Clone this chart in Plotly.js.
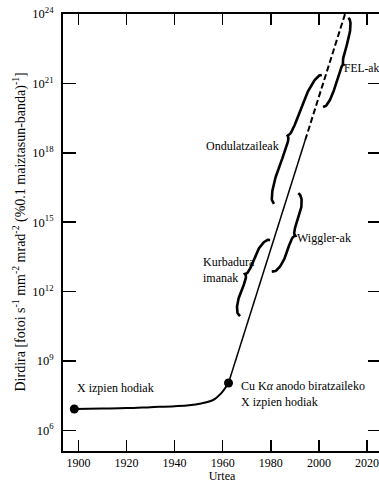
<!DOCTYPE html>
<html><head><meta charset="utf-8">
<script src="https://cdn.plot.ly/plotly-3.0.1.min.js"></script>
<style>html,body{margin:0;padding:0;overflow:hidden;background:#fff;width:379px;height:483px}</style>
</head><body><div id="chart" style="width:383px;height:483px"></div>
<script>
// ---- data ----
const xrayYears = [1898.3, 1910, 1920, 1930, 1940, 1946, 1951, 1956, 1959.5, 1962.4];
const xrayLogBrilliance = [6.92, 6.94, 6.96, 7.0, 7.04, 7.08, 7.16, 7.31, 7.62, 8.045];
const sourceYears = [1898.3, 1962.4];
const sourceLogBrilliance = [6.92, 8.045];
const trendYears = [1962.4, 1994.3];
const trendLogBrilliance = [8.045, 18.55];
const projYears = [1994.3, 2010.85];
const projLogBrilliance = [18.55, 24.0];
const braceLabels = ['FEL-ak', 'Ondulatzaileak', 'Wiggler-ak', 'Kurbadura imanak'];
const braceStartYears = [2001.7, 1981.3, 1980.4, 1967.2];
const braceStartLogs = [19.98, 15.79, 12.86, 10.94];
const braceEndYears = [2012.2, 2001.2, 1991.4, 1979.7];
const braceEndLogs = [23.83, 21.36, 16.25, 14.23];
const braceSides = [1, -1, 1, -1];
const yTickExps = [6, 9, 12, 15, 18, 21, 24];
const xTickYears = [1900, 1920, 1940, 1960, 1980, 2000, 2020];

// ---- layout / style constants ----
const W = 383, H = 483, M = {l: 63, r: 2, t: 14, b: 32};
const XR = [1893.6, 2025.8], YR = [5.105, 24];
const kx = (W - M.l - M.r) / (XR[1] - XR[0]);
const ky = (H - M.t - M.b) / (YR[1] - YR[0]);
const FONT = 'Liberation Serif';
const BODY = 8, CUSP = 3, R1 = 0.5, R2 = 0.2;
const BRACE_SCALE = [0.75, 1, 1, 1];

const pow10 = a => a.map(v => Math.pow(10, v));

function brace(i) {
  const u0 = braceStartYears[i] * kx, v0 = braceStartLogs[i] * ky;
  const u1 = braceEndYears[i] * kx, v1 = braceEndLogs[i] * ky;
  const L = Math.hypot(u1 - u0, v1 - v0);
  const du = (u1 - u0) / L, dv = (v1 - v0) / L;
  const nu = dv * braceSides[i], nv = -du * braceSides[i];
  const sc = BRACE_SCALE[i];
  const xs = [], ys = [];
  const N = 100;
  for (let k = 0; k <= N; k++) {
    const s = k / N;
    const q = s < 0.5 ? s / 0.5 : (1 - s) / 0.5;
    const a = Math.min(q / R1, 1);
    const b = Math.max(0, (q - (1 - R2)) / R2);
    const o = sc * (BODY * Math.sqrt(1 - (1 - a) * (1 - a)) + CUSP * (1 - Math.sqrt(Math.max(0, 1 - b * b))));
    const u = u0 + (u1 - u0) * s + nu * o;
    const v = v0 + (v1 - v0) * s + nv * o;
    xs.push(u / kx); ys.push(Math.pow(10, v / ky));
  }
  return {x: xs, y: ys, mode: 'lines', type: 'scatter', name: braceLabels[i],
          line: {color: '#000', width: 2.6}, hoverinfo: 'name', showlegend: false};
}

const traces = [
  {x: xrayYears, y: pow10(xrayLogBrilliance), mode: 'lines', type: 'scatter',
   line: {color: '#000', width: 2, shape: 'spline', smoothing: 1}, showlegend: false},
  {x: trendYears, y: pow10(trendLogBrilliance), mode: 'lines', type: 'scatter',
   line: {color: '#000', width: 1.5}, showlegend: false},
  {x: projYears, y: pow10(projLogBrilliance), mode: 'lines', type: 'scatter',
   line: {color: '#000', width: 2, dash: '6px,3px'}, showlegend: false, cliponaxis: false},
  {x: sourceYears, y: pow10(sourceLogBrilliance), mode: 'markers', type: 'scatter',
   marker: {color: '#000', size: 9}, showlegend: false, cliponaxis: false}
];
for (let i = 0; i < braceLabels.length; i++) traces.push(brace(i));

const ann = (text, x, y, xanchor, size) => ({text, x, y, xref: 'x', yref: 'y', xanchor, yanchor: 'middle',
  align: 'left', showarrow: false, borderpad: 0, font: {family: FONT, size: size || 12, color: '#000'}});

const layout = {
  width: W, height: H, margin: M,
  paper_bgcolor: '#fff', plot_bgcolor: '#fff',
  font: {family: FONT, size: 12, color: '#000'},
  xaxis: {range: XR, tickvals: xTickYears, ticktext: xTickYears.map(String),
    ticks: 'inside', ticklen: 11, tickwidth: 1.5, tickcolor: '#000',
    showline: true, linewidth: 2, linecolor: '#000', mirror: 'ticks',
    showgrid: false, zeroline: false, tickfont: {family: FONT, size: 12},
    title: {text: 'Urtea', font: {family: FONT, size: 12}, standoff: 10}},
  yaxis: {type: 'log', range: YR, tickvals: yTickExps.map(e => Math.pow(10, e)),
    ticktext: yTickExps.map(e => '10<sup>' + e + '</sup>'),
    ticks: 'inside', ticklen: 13, tickwidth: 1.5, tickcolor: '#000',
    showline: true, linewidth: 2, linecolor: '#000', mirror: 'ticks',
    showgrid: false, zeroline: false, tickfont: {family: FONT, size: 12.5}, ticklabelstandoff: 5},
  annotations: [
    {text: 'Dirdira [fotoi s<sup>-1</sup> mm<sup>-2</sup> mrad<sup>-2</sup> (%0.1 maiztasun-banda)<sup>-1</sup>]',
     xref: 'paper', yref: 'paper', x: (20 - M.l) / (W - M.l - M.r), y: 0.5,
     xanchor: 'center', yanchor: 'middle', textangle: -90, showarrow: false,
     font: {family: FONT, size: 14, color: '#000'}},
    ann('X izpien hodiak', 1899.1, 7.83, 'left'),
    ann('Cu K<i>α</i> anodo biratzaileko<br>X izpien hodiak', 1967.2, 7.55, 'left'),
    ann('Ondulatzaileak', 1983.8, 18.29, 'right'),
    ann('Wiggler-ak', 1990.5, 14.32, 'left'),
    ann('Kurbadura<br>imanak', 1951.4, 12.92, 'left'),
    ann('FEL-ak', 2009.8, 21.67, 'left', 11.5)
  ],
  showlegend: false
};

Plotly.newPlot('chart', traces, layout, {displayModeBar: false, staticPlot: true});
</script></body></html>
